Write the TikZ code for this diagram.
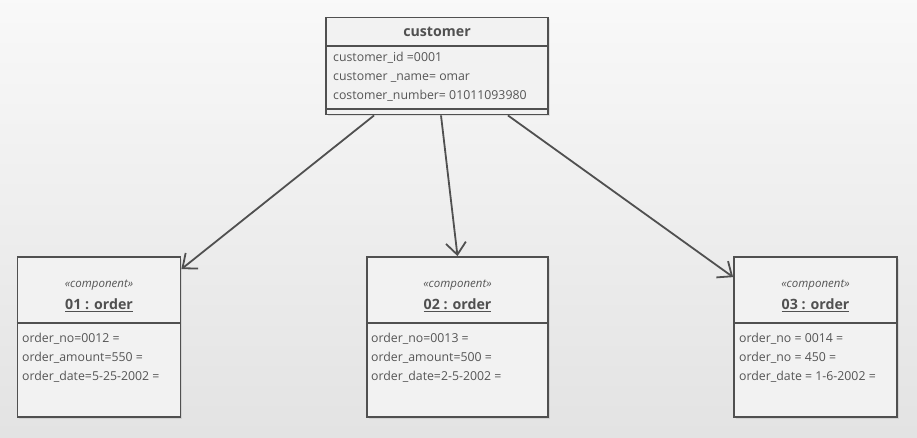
\documentclass[tikz,border=0pt]{standalone}
\usepackage{fontspec}
\setmainfont{Open Sans}
\usetikzlibrary{arrows.meta,shadows}

\definecolor{edgegray}{HTML}{505050}
\definecolor{boxgray}{HTML}{F2F2F2}
\definecolor{textgray}{HTML}{555555}

\tikzset{
    objbox/.style={draw=edgegray, line width=1.8pt, fill=boxgray, rectangle, inner sep=0pt,
        drop shadow={opacity=0.18, shadow xshift=1.5pt, shadow yshift=-1.5pt}},
    divider/.style={draw=edgegray, line width=1.8pt},
    attr/.style={anchor=west, inner sep=0pt, text=textgray, font=\fontsize{12.3}{14}\selectfont},
    objtitle/.style={inner sep=0pt, text=edgegray, font=\fontsize{14.2}{16}\selectfont\bfseries},
    stereo/.style={inner sep=0pt, text=textgray, font=\fontsize{11.5}{13}\selectfont\itshape},
    link/.style={draw=edgegray, line width=1.8pt, -{Straight Barb[length=12pt,width=20pt,line width=1.8pt]}}
}

\begin{document}
\begin{tikzpicture}[x=1pt,y=-1pt]
    \shade[top color=white!95!gray, bottom color=black!11] (0,0) rectangle (917,437);
    \useasboundingbox (0,0) rectangle (917,437);

    \node[objbox, minimum width=222pt, minimum height=97pt] at (437,66) (cust) {};
    \node[objbox, minimum width=163pt, minimum height=160pt] at (99,337)  (o1) {};
    \node[objbox, minimum width=181pt, minimum height=160pt] at (457.5,337) (o2) {};
    \node[objbox, minimum width=163pt, minimum height=160pt] at (815.5,337) (o3) {};

    \draw[divider] (cust.west |- 0,46) -- (cust.east |- 0,46);
    \draw[divider] (cust.west |- 0,109) -- (cust.east |- 0,109);
    \draw[divider] (o1.west |- 0,323) -- (o1.east |- 0,323);
    \draw[divider] (o2.west |- 0,323) -- (o2.east |- 0,323);
    \draw[divider] (o3.west |- 0,323) -- (o3.east |- 0,323);

    \node[objtitle] at (437,32) (custname) {customer};
    \node[attr] at (333,58) (custid)  {customer\_id =0001};
    \node[attr] at (333,77) (custnm)  {customer \_name= omar};
    \node[attr] at (333,96) (custnum) {costomer\_number= 01011093980};

    \node[stereo] at (99,285)    (s1) {«component»};
    \node[objtitle] at (99,305)  (n1) {\underline{01 : order}};
    \node[attr] at (22,339) (o1no)   {order\_no=0012 =};
    \node[attr] at (22,358) (o1amt)  {order\_amount=550 =};
    \node[attr] at (22,377) (o1date) {order\_date=5-25-2002 =};

    \node[stereo] at (457.5,285)   (s2) {«component»};
    \node[objtitle] at (457.5,305) (n2) {\underline{02 : order}};
    \node[attr] at (371,339) (o2no)   {order\_no=0013 =};
    \node[attr] at (371,358) (o2amt)  {order\_amount=500 =};
    \node[attr] at (371,377) (o2date) {order\_date=2-5-2002 =};

    \node[stereo] at (815.5,285)   (s3) {«component»};
    \node[objtitle] at (815.5,305) (n3) {\underline{03 : order}};
    \node[attr] at (739,339) (o3no)   {order\_no = 0014 =};
    \node[attr] at (739,358) (o3amt)  {order\_no = 450 =};
    \node[attr] at (739,377) (o3date) {order\_date = 1-6-2002 =};

    \draw[link] ([xshift=49pt]cust.south west) -- ([yshift=-13pt]o1.north east);
    \draw[link] ([xshift=4pt]cust.south) -- (o2.north);
    \draw[link] ([xshift=-41pt]cust.south east) -- ([yshift=-21pt]o3.north west);
\end{tikzpicture}
\end{document}
